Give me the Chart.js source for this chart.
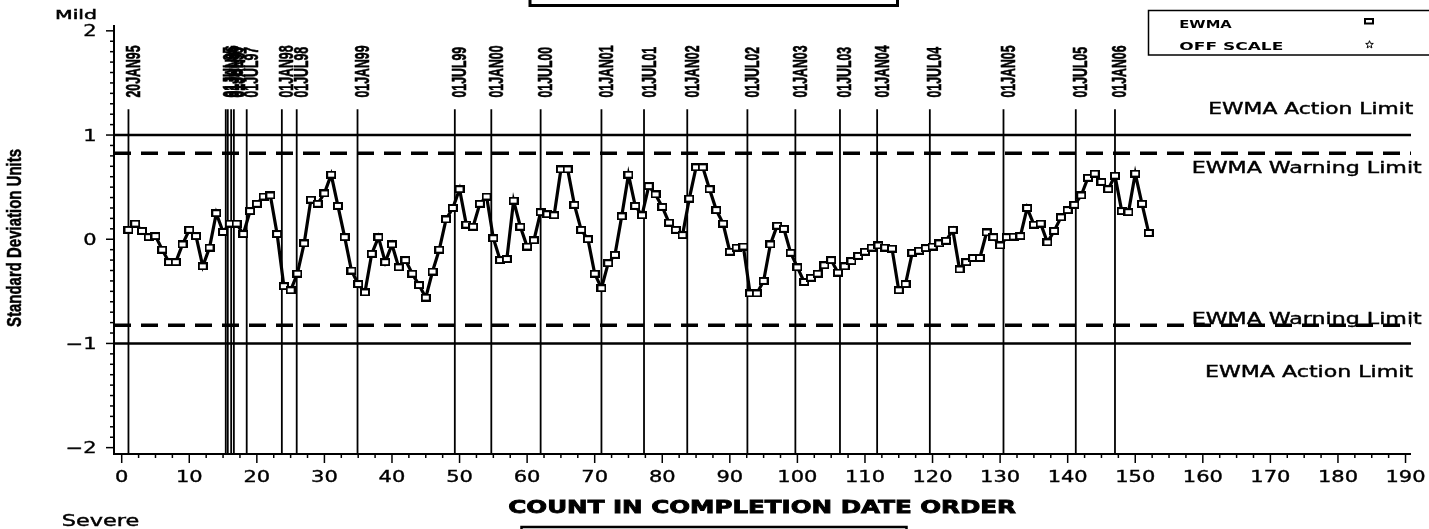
<!DOCTYPE html>
<html><head><meta charset="utf-8">
<script src="https://cdn.jsdelivr.net/npm/chart.js@4"></script>
<style>html,body{margin:0;padding:0;background:#fff;}canvas{display:block;}</style>
</head><body>
<canvas id="c" width="1429" height="529"></canvas>
<script>
// ---- data ----
const ewmaValues = [
  0.09, 0.15, 0.08, 0.02, 0.03, -0.10, -0.22, -0.22, -0.05, 0.09,
  0.03, -0.26, -0.08, 0.25, 0.07, 0.15, 0.15, 0.05, 0.27, 0.34,
  0.41, 0.42, 0.05, -0.45, -0.49, -0.33, -0.04, 0.38, 0.34, 0.44,
  0.62, 0.32, 0.02, -0.30, -0.43, -0.51, -0.14, 0.02, -0.22, -0.05,
  -0.27, -0.20, -0.33, -0.44, -0.56, -0.31, -0.10, 0.19, 0.30, 0.48,
  0.14, 0.12, 0.34, 0.41, 0.01, -0.20, -0.19, 0.37, 0.12, -0.07,
  -0.01, 0.26, 0.24, 0.23, 0.67, 0.67, 0.33, 0.09, 0.00, -0.33,
  -0.47, -0.23, -0.15, 0.22, 0.62, 0.32, 0.23, 0.51, 0.43, 0.31,
  0.16, 0.09, 0.04, 0.39, 0.69, 0.69, 0.48, 0.28, 0.15, -0.12,
  -0.08, -0.07, -0.52, -0.52, -0.40, -0.05, 0.13, 0.10, -0.13, -0.27,
  -0.41, -0.37, -0.33, -0.25, -0.20, -0.32, -0.26, -0.21, -0.16, -0.12,
  -0.08, -0.06, -0.08, -0.09, -0.49, -0.43, -0.13, -0.11, -0.085, -0.07,
  -0.04, -0.015, 0.09, -0.29, -0.22, -0.18, -0.18, 0.065, 0.02, -0.06,
  0.02, 0.025, 0.03, 0.30, 0.14, 0.15, -0.03, 0.08, 0.21, 0.28,
  0.33, 0.42, 0.59, 0.63, 0.55, 0.48, 0.61, 0.27, 0.26, 0.63,
  0.34, 0.06
];
const dateLabels = ['20JAN95','01JUL95','01JAN96','01JUL96','01JAN97','01JUL97','01JAN98','01JUL98','01JAN99',
  '01JUL99','01JAN00','01JUL00','01JAN01','01JUL01','01JAN02','01JUL02','01JAN03','01JUL03','01JAN04',
  '01JUL04','01JAN05','01JUL05','01JAN06'];
const datePositions = [1.0,15.4,15.7,16.2,16.6,18.5,23.7,25.9,34.9,
  49.3,54.7,62.0,71.0,77.3,83.7,92.6,99.7,106.3,111.8,
  119.6,130.5,141.2,147.0];
const actionLimit = 1.0;
const warningLimit = 0.825;
const xTickLabels = ['0','10','20','30','40','50','60','70','80','90','100','110','120','130','140','150','160','170','180','190'];
const yTickLabels = ['2','1','0','\u22121','\u22122'];
const yTickValues = [2,1,0,-1,-2];
const legendLabels = ['EWMA','OFF SCALE'];

// ---- layout constants ----
const X_MIN = -1.14, X_MAX = 190.81, Y_MIN = -2.061, Y_MAX = 2.056, LINE_TOP = 1.247;

function markerCanvas(){
  const c = document.createElement('canvas'); c.width = 10; c.height = 8;
  const g = c.getContext('2d');
  g.fillStyle = '#000'; g.fillRect(0,0,10,8);
  g.fillStyle = '#fff'; g.fillRect(2,2,6,4);
  return c;
}

function fitText(ctx, text, x, y, o){
  ctx.save();
  ctx.font = o.font;
  ctx.textAlign = 'left';
  ctx.textBaseline = 'alphabetic';
  const w = ctx.measureText(text).width;
  const sx = o.width ? o.width / w : (o.sx || 1);
  const tw = w * sx;
  ctx.translate(x, y);
  if (o.rotate) ctx.rotate(o.rotate);
  let start = 0;
  if (o.align === 'center') start = -tw/2; else if (o.align === 'right') start = -tw;
  ctx.translate(start, o.dy || 0);
  ctx.scale(sx, 1);
  ctx.fillStyle = '#000';
  ctx.fillText(text, 0, 0);
  if (o.stroke){ ctx.strokeStyle = '#000'; ctx.lineWidth = o.stroke; ctx.strokeText(text, 0, 0); }
  ctx.restore();
}

const datasets = [];
datasets.push({
  label: 'EWMA',
  data: ewmaValues.map((v,i)=>({x:i+1, y:v})),
  borderColor:'#000', borderWidth:3.2, tension:0,
  pointStyle: markerCanvas(), pointRadius:4, order:0
});
[[actionLimit,2.5,[]],[-actionLimit,2.5,[]],[warningLimit,3.5,[17,10]],[-warningLimit,3.5,[17,10]]].forEach(([v,w,d])=>{
  datasets.push({data:[{x:X_MIN,y:v},{x:X_MAX,y:v}], borderColor:'#000', borderWidth:w, borderDash:d, pointRadius:0, order:2});
});
datePositions.forEach(p=>{
  datasets.push({data:[{x:p,y:Y_MIN},{x:p,y:LINE_TOP}], borderColor:'#000', borderWidth:1.8, pointRadius:0, order:3});
});

const decor = {
  id:'decor',
  afterDraw(chart){
    const ctx = chart.ctx, xs = chart.scales.x, ys = chart.scales.y, a = chart.chartArea;
    ctx.save();
    ctx.strokeStyle = '#000'; ctx.fillStyle = '#000';
    // axes
    ctx.lineWidth = 2;
    ctx.beginPath(); ctx.moveTo(a.left, a.top); ctx.lineTo(a.left, a.bottom); ctx.lineTo(a.right, a.bottom); ctx.stroke();
    // y ticks
    ctx.lineWidth = 1.5;
    for (let k=-20;k<=20;k++){
      const py = ys.getPixelForValue(k/10);
      const len = (k%10===0) ? 8 : 4;
      ctx.beginPath(); ctx.moveTo(a.left-len, py); ctx.lineTo(a.left, py); ctx.stroke();
    }
    // x ticks
    for (let k=0;k<=76;k++){
      const px = xs.getPixelForValue(k*2.5);
      const len = (k%4===0) ? 9 : 4;
      ctx.beginPath(); ctx.moveTo(px, a.bottom); ctx.lineTo(px, a.bottom+len); ctx.stroke();
    }
    // tick labels
    const tf = '15px "DejaVu Sans"';
    xTickLabels.forEach(t=>{
      const px = xs.getPixelForValue(Number(t));
      fitText(ctx, t, px, 482, {font:tf, sx:1.4, align:'center', stroke:0.35});
    });
    yTickLabels.forEach((t,i)=>{
      const py = ys.getPixelForValue(yTickValues[i]);
      fitText(ctx, t, 96.5, py+5.5, {font:tf, sx:1.4, align:'right', stroke:0.35});
    });
    // date labels
    const df = 'bold 21px "Liberation Sans Narrow", "Liberation Sans"';
    ctx.font = df;
    const dsx = 52 / ctx.measureText('01JAN00').width;
    dateLabels.forEach((t,i)=>{
      const px = xs.getPixelForValue(datePositions[i]) + 4 + 7.5;
      fitText(ctx, t, px, 97.5, {font:df, sx:dsx, rotate:-Math.PI/2, stroke:0.6});
    });
    // limit labels
    const lf = '15px "DejaVu Sans"';
    fitText(ctx, 'EWMA Action Limit', 1208.3, 114, {font:lf, width:205, stroke:0.4});
    fitText(ctx, 'EWMA Warning Limit', 1191.7, 173.3, {font:lf, width:230, stroke:0.4});
    fitText(ctx, 'EWMA Warning Limit', 1191.7, 324, {font:lf, width:230, stroke:0.4});
    fitText(ctx, 'EWMA Action Limit', 1205, 377, {font:lf, width:208, stroke:0.4});
    // axis titles
    fitText(ctx, 'COUNT IN COMPLETION DATE ORDER', 508.3, 513.3, {font:'bold 17px "DejaVu Sans"', width:507.7, stroke:0.8});
    fitText(ctx, 'Standard Deviation Units', 14+7, 238, {font:'bold 20px "Liberation Sans Narrow", "Liberation Sans"', width:178, rotate:-Math.PI/2, align:'center', stroke:0.5});
    fitText(ctx, 'Mild', 55, 18.5, {font:'13px "DejaVu Sans"', width:42, stroke:0.5});
    fitText(ctx, 'Severe', 61.7, 526, {font:'15px "DejaVu Sans"', width:77.6, stroke:0.4});
    // legend
    ctx.lineWidth = 1.5;
    ctx.strokeRect(1148.5, 10.5, 300, 44.5);
    fitText(ctx, legendLabels[0], 1179.3, 28, {font:'bold 10px "DejaVu Sans"', width:52.4});
    fitText(ctx, legendLabels[1], 1179.3, 50, {font:'bold 10px "DejaVu Sans"', width:104});
    ctx.lineWidth = 2;
    ctx.strokeRect(1365, 19, 8, 4.5);
    // star
    ctx.lineWidth = 1;
    ctx.beginPath();
    for (let i=0;i<10;i++){
      const r = (i%2===0) ? 4 : 1.7;
      const ang = -Math.PI/2 + i*Math.PI/5;
      const sx = 1369.5 + r*Math.cos(ang), sy = 44.7 + r*Math.sin(ang);
      if (i===0) ctx.moveTo(sx,sy); else ctx.lineTo(sx,sy);
    }
    ctx.closePath(); ctx.stroke();
    // title boxes (cut off)
    ctx.lineWidth = 3;
    ctx.beginPath(); ctx.moveTo(530,-5); ctx.lineTo(530,5.5); ctx.lineTo(897.5,5.5); ctx.lineTo(897.5,-5); ctx.stroke();
    ctx.lineWidth = 2.5;
    ctx.beginPath(); ctx.moveTo(521.5,540); ctx.lineTo(521.5,527); ctx.lineTo(906.5,527); ctx.lineTo(906.5,540); ctx.stroke();
    ctx.restore();
  }
};

new Chart(document.getElementById('c'), {
  type:'line',
  data:{datasets},
  options:{
    responsive:false, animation:false, devicePixelRatio:1,
    layout:{padding:{left:114, right:18, top:25, bottom:75}},
    scales:{
      x:{type:'linear', min:X_MIN, max:X_MAX, display:false},
      y:{type:'linear', min:Y_MIN, max:Y_MAX, display:false}
    },
    plugins:{legend:{display:false}, tooltip:{enabled:false}},
    events:[]
  },
  plugins:[decor]
});
</script>
</body></html>
